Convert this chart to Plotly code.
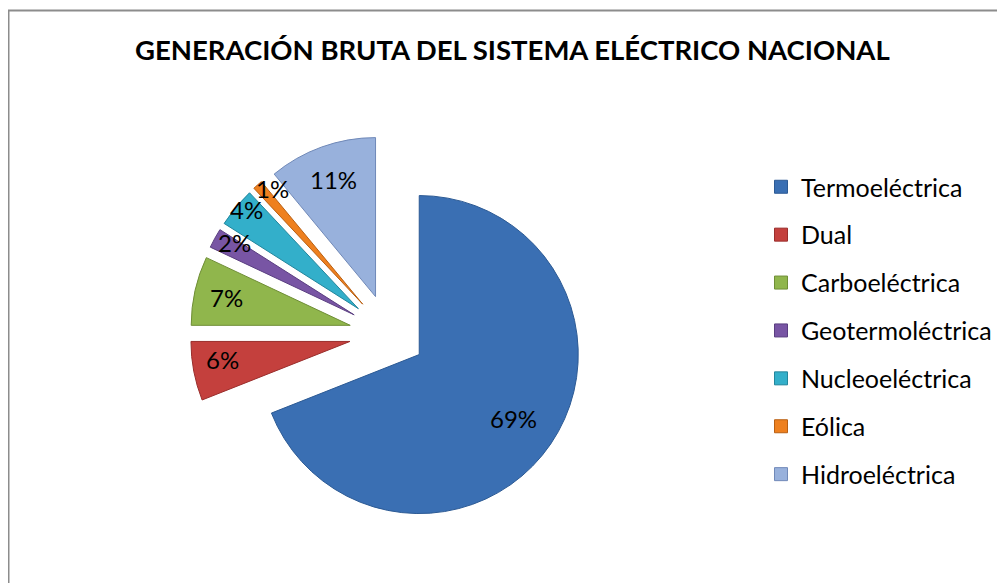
import math
import plotly.graph_objects as go

# ---- data ----
categories = ["Termoeléctrica", "Dual", "Carboeléctrica", "Geotermoléctrica",
              "Nucleoeléctrica", "Eólica", "Hidroeléctrica"]
values = [69, 6, 7, 2, 4, 1, 11]
title_text = "GENERACIÓN BRUTA DEL SISTEMA ELÉCTRICO NACIONAL"

# ---- style ----
colors = ["#3A6FB3", "#C4403D", "#90B64C", "#7855A4", "#33AFCA", "#EE801F", "#98B1DC"]
edge_colors = ["#2C5A94", "#9A2E2C", "#6F8E36", "#5A3E80", "#23869C", "#B85F12", "#7089B8"]
pulls = [0.23, 0.25, 0.25, 0.25, 0.25, 0.25, 0.25]
label_radius = [0.72, 0.81, 0.80, 0.88, 0.94, 0.92, 0.78]   # fraction of radius from slice tip
label_nudge_deg = [0, 2, 0, 2, 1.5, 2.7, 0]                 # angular nudge of labels

PAGE_MARGIN = 8            # default body margin of the html page
W, H = 1005 - PAGE_MARGIN, 583 - PAGE_MARGIN


def fx(px):
    return (px - PAGE_MARGIN) / W


def fy(py):
    return 1 - (py - PAGE_MARGIN) / H


cx, cy = 389, 334          # pie centre (page px)
R = 159                    # pie radius (px)
half = R * (1 + max(pulls))
dom_x = [fx(cx - half), fx(cx + half)]
dom_y = [fy(cy + half), fy(cy - half)]

FONT = "Lato, Carlito, Calibri, sans-serif"

fig = go.Figure()
fig.add_trace(go.Pie(
    labels=categories, values=values, sort=False, direction="clockwise",
    rotation=0, pull=pulls, textinfo="none", showlegend=False,
    marker=dict(colors=colors, line=dict(color=edge_colors, width=1)),
    domain=dict(x=dom_x, y=dom_y), hoverinfo="label+percent",
))

# legend entries (one group per category so the spacing can be set)
for cat, c, ec in zip(categories, colors, edge_colors):
    fig.add_trace(go.Scatter(
        x=[None], y=[None], mode="markers", name=cat, legendgroup=cat,
        marker=dict(symbol="square", size=13, color=c, line=dict(color=ec, width=1)),
        hoverinfo="skip", showlegend=True,
    ))

# percentage labels positioned from the data
annotations = []
total = sum(values)
cum = 0
for v, p, rf, nd in zip(values, pulls, label_radius, label_nudge_deg):
    share = v / total
    mid = (cum + share / 2) * 2 * math.pi + math.radians(nd)
    cum += share
    d = (p + rf) * R
    px = cx + d * math.sin(mid)
    py = cy - d * math.cos(mid)
    annotations.append(dict(
        x=fx(px), y=fy(py), xref="paper", yref="paper",
        text=f"{round(share * 100)}%", showarrow=False,
        font=dict(family=FONT, size=24, color="#000000"),
        xanchor="center", yanchor="middle",
    ))

annotations.append(dict(
    x=fx(513), y=fy(49), xref="paper", yref="paper",
    text=f"<b>{title_text}</b>", showarrow=False,
    font=dict(family=FONT, size=27.5, color="#000000"),
    xanchor="center", yanchor="middle",
))

fig.update_layout(
    width=W, height=H,
    margin=dict(l=0, r=0, t=0, b=0),
    paper_bgcolor="white", plot_bgcolor="white",
    xaxis=dict(visible=False), yaxis=dict(visible=False),
    annotations=annotations,
    legend=dict(
        x=fx(761), y=fy(164), xanchor="left", yanchor="top",
        font=dict(family=FONT, size=25, color="#000000"),
        tracegroupgap=12.4, itemwidth=30, bgcolor="rgba(0,0,0,0)",
    ),
    shapes=[dict(
        type="path", xref="paper", yref="paper",
        path=f"M {fx(8.5)},0 L {fx(8.5)},{fy(10.5)} L 1,{fy(10.5)}",
        line=dict(color="#8C8C8C", width=2),
    )],
)

fig.write_html("out.html")
